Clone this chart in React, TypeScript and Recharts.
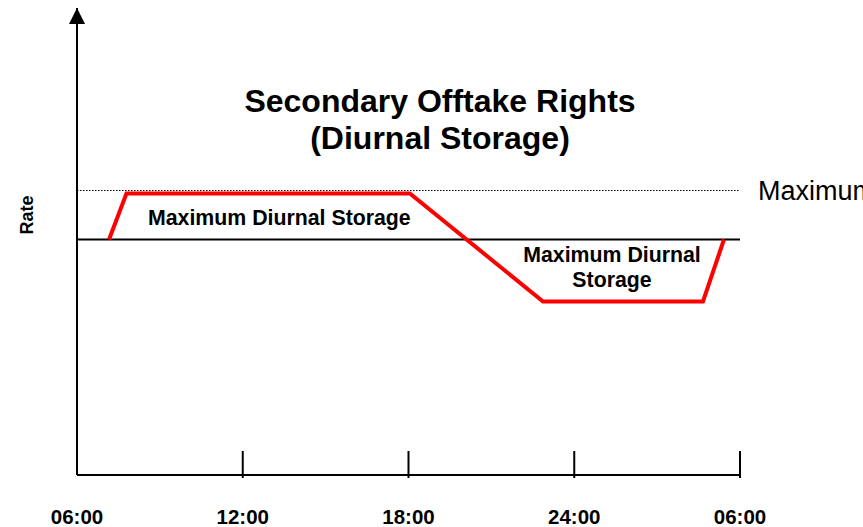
import React from 'react';
import { LineChart, Line, XAxis, YAxis, ReferenceLine, ReferenceDot } from 'recharts';

// hours after 06:00 and the rate at each corner of the red profile
const hours = [1.16, 1.79, 12.05, 16.87, 22.66, 23.42];
const rates = [47.1, 56.3, 56.3, 34.7, 34.7, 47.1];
const tickHours = [0, 6, 12, 18, 24];
const tickLabels = ['06:00', '12:00', '18:00', '24:00', '06:00'];

const baseRate = 47.1;
const maxRate = 56.9;
const rateTop = 93.4;

const data = hours.map((h, i) => ({ h, rate: rates[i] }));

const FONT = 'Arial, "Liberation Sans", Helvetica, sans-serif';

function HourTick(props: any) {
  const { x, y, payload, index } = props;
  return (
    <g>
      {index > 0 && <line x1={x} y1={y - 26} x2={x} y2={y + 1} stroke="#000" strokeWidth={2} />}
      <text x={x} y={y + 47} textAnchor="middle" fontFamily={FONT} fontWeight="bold" fontSize={20.5} fill="#000">
        {tickLabels[tickHours.indexOf(payload.value)]}
      </text>
    </g>
  );
}

function Arrow(props: any) {
  const { cx, cy } = props;
  return <polygon points={`${cx},${cy} ${cx - 8},${cy + 16} ${cx + 8},${cy + 16}`} fill="#000" />;
}

export default function App() {
  return (
    <div style={{ position: 'absolute', left: 0, top: 0, width: 863, height: 527, background: '#fff', fontFamily: FONT }}>
      <LineChart width={863} height={527} data={data} margin={{ top: 8, right: 123, left: 0, bottom: 0 }}>
        <XAxis
          dataKey="h"
          type="number"
          domain={[0, 24]}
          ticks={tickHours}
          height={52}
          tickSize={0}
          tickLine={false}
          axisLine={{ stroke: '#000', strokeWidth: 2 }}
          tick={<HourTick />}
          interval={0}
        />
        <YAxis
          type="number"
          domain={[0, rateTop]}
          width={77}
          tick={false}
          tickLine={false}
          axisLine={{ stroke: '#000', strokeWidth: 2 }}
        />
        <ReferenceLine y={baseRate} stroke="#000" strokeWidth={2} />
        <ReferenceLine
          y={maxRate}
          stroke="#000"
          strokeWidth={1.2}
          strokeDasharray="1.5 1.5"
          label={{ value: 'Maximum', position: 'right', offset: 18, fill: '#000', fontSize: 27, fontFamily: FONT }}
        />
        <ReferenceDot x={0} y={rateTop} r={0} ifOverflow="visible" shape={<Arrow />} />
        <Line
          dataKey="rate"
          type="linear"
          stroke="#ff0000"
          strokeWidth={4}
          dot={false}
          isAnimationActive={false}
        />
      </LineChart>
      <svg width={863} height={527} style={{ position: 'absolute', left: 0, top: 0, pointerEvents: 'none' }}>
        <text x={440} y={112} textAnchor="middle" fontWeight="bold" fontSize={32} fontFamily={FONT}>
          Secondary Offtake Rights
        </text>
        <text x={440} y={149} textAnchor="middle" fontWeight="bold" fontSize={32} fontFamily={FONT}>
          (Diurnal Storage)
        </text>
        <text x={148} y={225} fontWeight="bold" fontSize={21.3} fontFamily={FONT}>
          Maximum Diurnal Storage
        </text>
        <text x={612} y={262} textAnchor="middle" fontWeight="bold" fontSize={21.3} fontFamily={FONT}>
          Maximum Diurnal
        </text>
        <text x={612} y={287} textAnchor="middle" fontWeight="bold" fontSize={21.3} fontFamily={FONT}>
          Storage
        </text>
        <text x={33} y={215} textAnchor="middle" fontWeight="bold" fontSize={18} fontFamily={FONT} transform="rotate(-90 33 215)">
          Rate
        </text>
      </svg>
    </div>
  );
}
